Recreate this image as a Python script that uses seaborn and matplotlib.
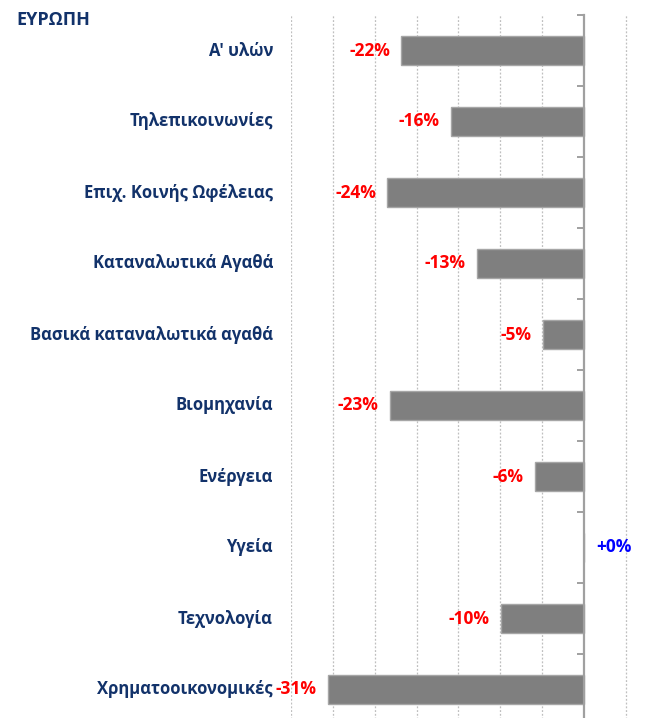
import matplotlib
matplotlib.use("Agg")
import matplotlib.pyplot as plt
import seaborn as sns
import pandas as pd
import numpy as np

categories = ["Α' υλών", "Τηλεπικοινωνίες", "Επιχ. Κοινής Ωφέλειας", "Καταναλωτικά Αγαθά",
              "Βασικά καταναλωτικά αγαθά", "Βιομηχανία", "Ενέργεια", "Υγεία",
              "Τεχνολογία", "Χρηματοοικονομικές"]
values = [-21.8, -15.9, -23.5, -12.8, -4.9, -23.2, -5.9, 0.0, -9.9, -30.6]
grid_ticks = [-35, -30, -25, -20, -15, -10, -5, 5]
title = "ΕΥΡΩΠΗ"

sns.set_theme(style="white")
plt.rcParams['font.family'] = ['Open Sans', 'DejaVu Sans']

navy = "#12326A"
W, H = 648, 718
fig = plt.figure(figsize=(W / 100, H / 100), dpi=100)
ax = fig.add_axes([291 / W, -7 / H, (640 - 291) / W, (725 - 15) / H])

df = pd.DataFrame({"cat": categories, "val": values})
sns.barplot(data=df, x="val", y="cat", orient="h", color="#7F7F7F", saturation=1,
            width=0.4, edgecolor="#A6A6A6", linewidth=1, ax=ax, zorder=3)

ax.set_xlim(-35, 6.7)
ax.set_ylim(9.5, -0.5)

for g in grid_ticks:
    ax.axvline(g, color="#BFBFBF", lw=0.9, ls=(0, (1.5, 1.5)), zorder=1)

for s in ["top", "right", "bottom"]:
    ax.spines[s].set_visible(False)
ax.spines["left"].set_position(("data", 0))
ax.spines["left"].set_color("#A0A0A0")
ax.spines["left"].set_linewidth(1.6)
ax.spines["left"].set_zorder(4)
ax.set_xticks([])
ax.set_yticks([])
ax.set_yticks(np.arange(-0.5, 9.0, 1.0), minor=True)
ax.tick_params(axis="y", which="minor", direction="out", length=5, width=1.4,
               color="#A0A0A0", left=True)
ax.set_xlabel("")
ax.set_ylabel("")

trans = ax.get_yaxis_transform()
for i, (c, v) in enumerate(zip(categories, values)):
    ax.text(-18 / (640 - 291), i, c, transform=trans, ha="right", va="center",
            fontsize=12, fontweight="bold", color=navy, clip_on=False)
    lab = f"{v:+.0f}%"
    if v < 0:
        ax.annotate(lab, (v, i), xytext=(-8, 0), textcoords="offset points",
                    ha="right", va="center", fontsize=12.5, fontweight="bold",
                    color="#FF0000", annotation_clip=False, zorder=5)
    else:
        ax.annotate(lab, (v, i), xytext=(9, 0), textcoords="offset points",
                    ha="left", va="center", fontsize=12.5, fontweight="bold",
                    color="#0000FF", annotation_clip=False, zorder=5)

fig.text(16 / W, 1 - 20 / H, title, ha="left", va="center", fontsize=13,
         fontweight="bold", color=navy)

fig.savefig("out.png", dpi=100)
